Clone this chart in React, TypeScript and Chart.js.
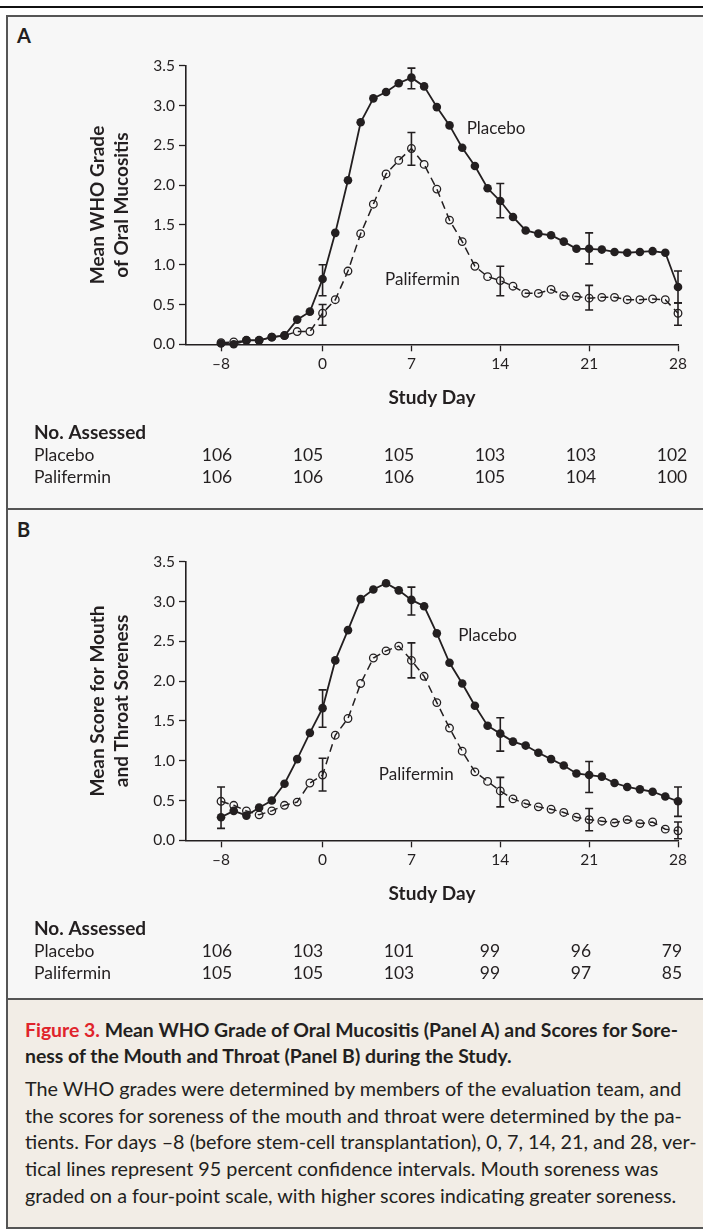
import React, { useEffect, useRef } from "react";
import { Chart, registerables } from "chart.js";

Chart.register(...registerables);

// ---------- DATA ----------
const days = [-8, -7, -6, -5, -4, -3, -2, -1, 0, 1, 2, 3, 4, 5, 6, 7, 8, 9, 10, 11, 12, 13, 14, 15, 16, 17, 18, 19, 20, 21, 22, 23, 24, 25, 26, 27, 28];
const xTickValues = [-8, 0, 7, 14, 21, 28];
const yTickStep = 0.5;

// Panel A: mean WHO grade of oral mucositis
const placeboA = [0.01, 0.0, 0.05, 0.05, 0.09, 0.11, 0.31, 0.41, 0.82, 1.4, 2.06, 2.79, 3.09, 3.17, 3.28, 3.35, 3.24, 2.98, 2.75, 2.47, 2.24, 1.96, 1.8, 1.6, 1.43, 1.39, 1.37, 1.29, 1.2, 1.2, 1.19, 1.16, 1.15, 1.16, 1.17, 1.15, 0.72];
const paliferminA = [0.02, 0.03, 0.05, 0.05, 0.09, 0.11, 0.16, 0.16, 0.39, 0.56, 0.92, 1.39, 1.76, 2.14, 2.31, 2.46, 2.26, 1.95, 1.56, 1.29, 0.98, 0.85, 0.8, 0.73, 0.64, 0.64, 0.69, 0.61, 0.6, 0.58, 0.59, 0.59, 0.56, 0.56, 0.57, 0.56, 0.39];
const placeboACiDays = [0, 7, 14, 21, 28];
const placeboACiLow = [0.61, 3.21, 1.59, 1.01, 0.52];
const placeboACiHigh = [1.0, 3.47, 2.02, 1.4, 0.92];
const paliferminACiDays = [0, 7, 14, 21, 28];
const paliferminACiLow = [0.24, 2.25, 0.61, 0.43, 0.24];
const paliferminACiHigh = [0.5, 2.66, 0.98, 0.74, 0.52];

// Panel B: mean score for mouth and throat soreness
const placeboB = [0.29, 0.37, 0.31, 0.41, 0.5, 0.71, 1.02, 1.35, 1.66, 2.26, 2.64, 3.03, 3.15, 3.23, 3.14, 3.02, 2.94, 2.6, 2.23, 1.97, 1.69, 1.44, 1.34, 1.24, 1.19, 1.1, 1.02, 0.94, 0.84, 0.82, 0.8, 0.72, 0.67, 0.64, 0.61, 0.55, 0.49];
const paliferminB = [0.49, 0.44, 0.37, 0.32, 0.37, 0.44, 0.48, 0.72, 0.82, 1.32, 1.53, 1.97, 2.29, 2.38, 2.44, 2.26, 2.06, 1.73, 1.41, 1.12, 0.86, 0.74, 0.62, 0.52, 0.46, 0.42, 0.39, 0.35, 0.29, 0.26, 0.24, 0.22, 0.26, 0.21, 0.23, 0.14, 0.12];
const placeboBCiDays = [-8, 0, 7, 14, 21, 28];
const placeboBCiLow = [0.15, 1.42, 2.83, 1.12, 0.6, 0.3];
const placeboBCiHigh = [0.67, 1.89, 3.18, 1.54, 0.99, 0.67];
const paliferminBCiDays = [0, 7, 14, 21, 28];
const paliferminBCiLow = [0.62, 2.04, 0.42, 0.12, 0.02];
const paliferminBCiHigh = [1.03, 2.48, 0.79, 0.4, 0.23];

// Numbers assessed
const assessedDays = [-8, 0, 7, 14, 21, 28];
const placeboAssessedA = [106, 105, 105, 103, 103, 102];
const paliferminAssessedA = [106, 106, 106, 105, 104, 100];
const placeboAssessedB = [106, 103, 101, 99, 96, 79];
const paliferminAssessedB = [105, 105, 103, 99, 97, 85];

// Series labels (anchor in data units)
const seriesNames = ["Placebo", "Palifermin"];
const labelAnchorsA = [
  { x: 11.35, y: 2.71 },
  { x: 4.92, y: 0.82 },
];
const labelAnchorsB = [
  { x: 10.68, y: 2.57 },
  { x: 4.43, y: 0.83 },
];

// ---------- STYLE ----------
const INK = "#231f20";
const FONT = "Lato, 'Open Sans', sans-serif";

type CI = { days: number[]; low: number[]; high: number[] };
type PanelSpec = {
  placebo: number[];
  palifermin: number[];
  cis: CI[];
  yTitle: string[];
  anchors: { x: number; y: number }[];
  assessed: number[][];
};

const panelA: PanelSpec = {
  placebo: placeboA,
  palifermin: paliferminA,
  cis: [
    { days: placeboACiDays, low: placeboACiLow, high: placeboACiHigh },
    { days: paliferminACiDays, low: paliferminACiLow, high: paliferminACiHigh },
  ],
  yTitle: ["Mean WHO Grade", "of Oral Mucositis"],
  anchors: labelAnchorsA,
  assessed: [placeboAssessedA, paliferminAssessedA],
};

const panelB: PanelSpec = {
  placebo: placeboB,
  palifermin: paliferminB,
  cis: [
    { days: placeboBCiDays, low: placeboBCiLow, high: placeboBCiHigh },
    { days: paliferminBCiDays, low: paliferminBCiLow, high: paliferminBCiHigh },
  ],
  yTitle: ["Mean Score for Mouth", "and Throat Soreness"],
  anchors: labelAnchorsB,
  assessed: [placeboAssessedB, paliferminAssessedB],
};

const CANVAS_W = 703;
const CANVAS_H = 460;

function fmtDay(v: number) {
  return v < 0 ? "\u2013" + Math.abs(v) : String(v);
}

function PanelChart({ spec }: { spec: PanelSpec }) {
  const ref = useRef<HTMLCanvasElement | null>(null);

  useEffect(() => {
    if (!ref.current) return;
    const extras = {
      id: "extras",
      afterDatasetsDraw(chart: any) {
        const { ctx } = chart;
        const x = chart.scales.x;
        const y = chart.scales.y;
        ctx.save();
        // error bars
        ctx.strokeStyle = INK;
        ctx.lineWidth = 1.6;
        spec.cis.forEach((ci) => {
          ci.days.forEach((d, i) => {
            const px = x.getPixelForValue(d);
            const yl = y.getPixelForValue(ci.low[i]);
            const yh = y.getPixelForValue(ci.high[i]);
            ctx.beginPath();
            ctx.moveTo(px, yl);
            ctx.lineTo(px, yh);
            ctx.moveTo(px - 4, yl);
            ctx.lineTo(px + 4, yl);
            ctx.moveTo(px - 4, yh);
            ctx.lineTo(px + 4, yh);
            ctx.stroke();
          });
        });
        // series labels
        ctx.fillStyle = INK;
        ctx.font = `17px ${FONT}`;
        ctx.textAlign = "left";
        ctx.textBaseline = "middle";
        spec.anchors.forEach((a, i) => {
          ctx.fillText(seriesNames[i], x.getPixelForValue(a.x), y.getPixelForValue(a.y));
        });
        // table of numbers assessed
        ctx.font = `bold 19px ${FONT}`;
        ctx.fillText("No. Assessed", 34, 393);
        ctx.font = `17.5px ${FONT}`;
        const rowsY = [415, 437];
        const n = assessedDays.length;
        const c0 = x.getPixelForValue(assessedDays[0]) - 4;
        const c1 = x.getPixelForValue(assessedDays[n - 1]) - 6;
        spec.assessed.forEach((row, r) => {
          ctx.textAlign = "left";
          ctx.fillText(seriesNames[r], 34, rowsY[r]);
          ctx.textAlign = "center";
          row.forEach((v, i) => {
            ctx.fillText(String(v), c0 + (i * (c1 - c0)) / (n - 1), rowsY[r]);
          });
        });
        ctx.restore();
      },
    };

    const chart = new Chart(ref.current, {
      type: "line",
      data: {
        datasets: [
          {
            label: "Placebo",
            data: days.map((d, i) => ({ x: d, y: spec.placebo[i] })),
            borderColor: INK,
            borderWidth: 1.8,
            pointRadius: 4.3,
            pointBackgroundColor: INK,
            pointBorderColor: INK,
            pointBorderWidth: 0,
            tension: 0,
            clip: false as any,
          },
          {
            label: "Palifermin",
            data: days.map((d, i) => ({ x: d, y: spec.palifermin[i] })),
            borderColor: INK,
            borderWidth: 1.5,
            borderDash: [8, 5],
            pointRadius: 3.8,
            pointBackgroundColor: "rgba(0,0,0,0)",
            pointBorderColor: INK,
            pointBorderWidth: 1.3,
            tension: 0,
            clip: false as any,
          },
        ],
      },
      options: {
        responsive: false,
        animation: false,
        events: [],
        layout: { padding: { top: 25.7, right: 25, bottom: 85.7, left: 0 } },
        plugins: { legend: { display: false }, tooltip: { enabled: false } },
        scales: {
          x: {
            type: "linear",
            min: -10.76,
            max: 28,
            afterFit: (s: any) => {
              s.height = 70;
            },
            afterBuildTicks: (s: any) => {
              s.ticks = xTickValues.map((v) => ({ value: v }));
            },
            grid: {
              display: true,
              drawOnChartArea: false,
              drawTicks: true,
              tickLength: 7,
              tickColor: INK,
              tickWidth: 1.3,
            },
            border: { display: true, color: INK, width: 1.6 },
            ticks: {
              color: INK,
              font: { size: 15.5, family: FONT },
              padding: 3,
              maxRotation: 0,
              autoSkip: false,
              callback: (v: any) => fmtDay(Number(v)),
            },
            title: {
              display: true,
              text: "Study Day",
              color: INK,
              font: { size: 19, weight: "bold", family: FONT, lineHeight: 1.2 },
              padding: { top: 0, bottom: 4.9 },
            },
          },
          y: {
            type: "linear",
            min: 0,
            max: 3.5,
            afterFit: (s: any) => {
              s.width = 186;
            },
            grid: {
              display: true,
              drawOnChartArea: false,
              drawTicks: true,
              tickLength: 7,
              tickColor: INK,
              tickWidth: 1.3,
            },
            border: { display: true, color: INK, width: 1.6 },
            ticks: {
              stepSize: yTickStep,
              color: INK,
              font: { size: 15.5, family: FONT },
              padding: 4,
              callback: (v: any) => Number(v).toFixed(1),
            },
            title: {
              display: true,
              text: spec.yTitle,
              color: INK,
              font: { size: 19, weight: "bold", family: FONT, lineHeight: 1.23 },
              padding: { top: 86.6, bottom: 0 },
            },
          },
        },
      } as any,
      plugins: [extras],
    });
    return () => chart.destroy();
  }, [spec]);

  return <canvas ref={ref} width={CANVAS_W} height={CANVAS_H} style={{ width: CANVAS_W, height: CANVAS_H, display: "block" }} />;
}

const BORDER = "#555";
const PANEL_BG = "#f7f7f7";
const CAPTION_BG = "#f2ede6";

export default function App() {
  const abs = (s: React.CSSProperties): React.CSSProperties => ({ position: "absolute", ...s });
  return (
    <div style={abs({ left: 0, top: 0, width: 703, height: 1229, background: "#fff", overflow: "hidden", fontFamily: FONT, color: INK })}>
      <div style={abs({ left: 0, top: 6, width: 703, height: 2, background: "#111" })} />
      {/* panel backgrounds */}
      <div style={abs({ left: 8, top: 17, width: 695, height: 491, background: PANEL_BG })} />
      <div style={abs({ left: 8, top: 510, width: 695, height: 488, background: PANEL_BG })} />
      <div style={abs({ left: 8, top: 1000, width: 695, height: 227, background: CAPTION_BG })} />
      {/* borders */}
      <div style={abs({ left: 6, top: 15, width: 2, height: 1214, background: BORDER })} />
      <div style={abs({ left: 6, top: 15, width: 697, height: 2, background: BORDER })} />
      <div style={abs({ left: 6, top: 508, width: 697, height: 2, background: BORDER })} />
      <div style={abs({ left: 6, top: 998, width: 697, height: 2, background: BORDER })} />
      <div style={abs({ left: 6, top: 1227, width: 697, height: 2, background: BORDER })} />
      {/* panel letters */}
      <div style={abs({ left: 17, top: 25, fontSize: 20, lineHeight: "20px", fontWeight: 700 })}>A</div>
      <div style={abs({ left: 17, top: 519, fontSize: 20, lineHeight: "20px", fontWeight: 700 })}>B</div>
      {/* charts */}
      <div style={abs({ left: 0, top: 40 })}>
        <PanelChart spec={panelA} />
      </div>
      <div style={abs({ left: 0, top: 536 })}>
        <PanelChart spec={panelB} />
      </div>
      {/* caption */}
      <div style={abs({ left: 25, top: 1016.6, lineHeight: "26.7px", whiteSpace: "nowrap" })}>
        <div style={{ fontWeight: 700, fontSize: 19.4 }}>
          <span style={{ color: "#e0242b" }}>Figure 3.</span> Mean WHO Grade of Oral Mucositis (Panel A) and Scores for Sore-
        </div>
        <div style={{ fontWeight: 700, fontSize: 19.4 }}>ness of the Mouth and Throat (Panel B) during the Study.</div>
        <div style={{ fontSize: 19.8 }}>
          <div style={{ marginTop: 5 }}>The WHO grades were determined by members of the evaluation team, and</div>
          <div>the scores for soreness of the mouth and throat were determined by the pa-</div>
          <div>tients. For days –8 (before stem-cell transplantation), 0, 7, 14, 21, and 28, ver-</div>
          <div>tical lines represent 95 percent confidence intervals. Mouth soreness was</div>
          <div>graded on a four-point scale, with higher scores indicating greater soreness.</div>
        </div>
      </div>
    </div>
  );
}
